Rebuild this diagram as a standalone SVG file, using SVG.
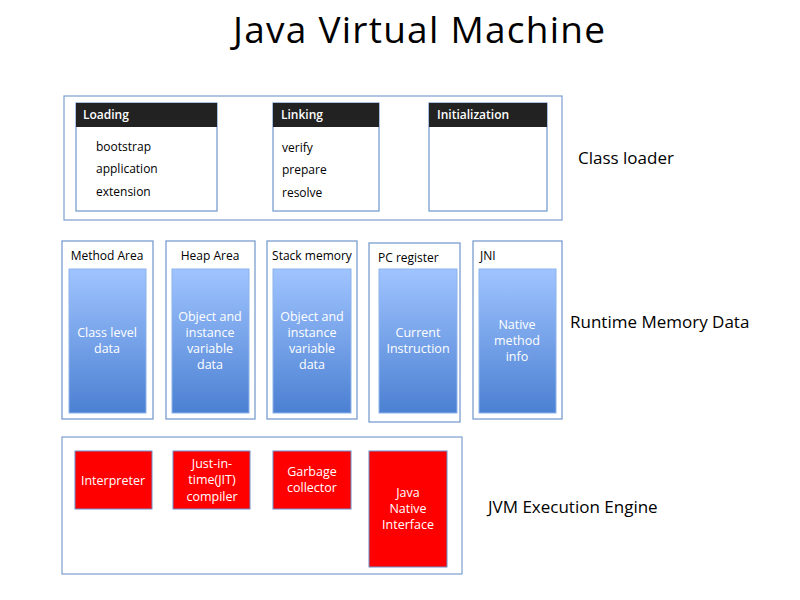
<svg xmlns="http://www.w3.org/2000/svg" width="800" height="600" viewBox="0 0 800 600">
<style>
text{font-family:"Open Sans","Liberation Sans",sans-serif;}
.outer{fill:#fff;stroke:#7d9fd0;stroke-width:1.2;}
.box{fill:#fff;stroke:#6f95cc;stroke-width:1.2;}
.hdr{fill:#222;}
.ht{fill:#fff;font-size:12px;font-weight:600;}
.t{fill:#000;font-size:12px;}
.lbl{fill:#000;font-size:12px;}
.blue{fill:url(#bg);stroke:#8db3ea;stroke-width:1;}
.red{fill:#ff0000;stroke:#6a8fca;stroke-width:1;}
.wt{fill:#fff;font-size:12.5px;text-anchor:middle;}
.side{fill:#000;font-size:17px;}
</style>
<defs>
<linearGradient id="bg" x1="0" y1="0" x2="0" y2="1">
<stop offset="0" stop-color="#a0c4ff"/>
<stop offset="1" stop-color="#4b80d2"/>
</linearGradient>
</defs>
<rect width="800" height="600" fill="#fff"/>
<text x="419" y="43" font-size="37" font-weight="500" text-anchor="middle" fill="#000" textLength="372">Java Virtual Machine</text>

<g id="class-loader">
<rect class="outer" x="64" y="96" width="498" height="124"/>
<text class="side" x="578" y="164">Class loader</text>
</g>
<g id="loading">
<rect class="box" x="76" y="103" width="141" height="108"/>
<rect class="hdr" x="76" y="103" width="141" height="24"/>
<text class="ht" x="83" y="119">Loading</text>
<text class="t" x="96" y="151">bootstrap</text>
<text class="t" x="96" y="173">application</text>
<text class="t" x="96" y="196">extension</text>
</g>
<g id="linking">
<rect class="box" x="273" y="103" width="106" height="108"/>
<rect class="hdr" x="273" y="103" width="106" height="24"/>
<text class="ht" x="281" y="119">Linking</text>
<text class="t" x="282" y="152">verify</text>
<text class="t" x="282" y="174">prepare</text>
<text class="t" x="282" y="197">resolve</text>
</g>
<g id="initialization">
<rect class="box" x="429" y="103" width="118" height="108"/>
<rect class="hdr" x="429" y="103" width="118" height="24"/>
<text class="ht" x="437" y="119">Initialization</text>
</g>

<g id="runtime-memory">
<text class="side" x="570" y="328">Runtime Memory Data</text>
</g>
<g id="method-area">
<rect class="box" x="62" y="241" width="91" height="178"/>
<text class="lbl" x="107" y="260" text-anchor="middle">Method Area</text>
<rect class="blue" x="69" y="269" width="77" height="144"/>
<text class="wt" x="107" y="337">Class level</text>
<text class="wt" x="107" y="353">data</text>
</g>
<g id="heap-area">
<rect class="box" x="166" y="241" width="89" height="178"/>
<text class="lbl" x="210" y="260" text-anchor="middle">Heap Area</text>
<rect class="blue" x="172" y="269" width="77" height="144"/>
<text class="wt" x="210" y="321">Object and</text>
<text class="wt" x="210" y="337">instance</text>
<text class="wt" x="210" y="353">variable</text>
<text class="wt" x="210" y="369">data</text>
</g>
<g id="stack-memory">
<rect class="box" x="267" y="241" width="90" height="178"/>
<text class="lbl" x="312" y="260" text-anchor="middle">Stack memory</text>
<rect class="blue" x="273" y="269" width="78" height="144"/>
<text class="wt" x="312" y="321">Object and</text>
<text class="wt" x="312" y="337">instance</text>
<text class="wt" x="312" y="353">variable</text>
<text class="wt" x="312" y="369">data</text>
</g>
<g id="pc-register">
<rect class="box" x="369" y="243" width="91" height="179"/>
<text class="lbl" x="378" y="262">PC register</text>
<rect class="blue" x="379" y="269" width="78" height="144"/>
<text class="wt" x="418" y="337">Current</text>
<text class="wt" x="418" y="353">Instruction</text>
</g>
<g id="jni">
<rect class="box" x="473" y="241" width="89" height="178"/>
<text class="lbl" x="480" y="260">JNI</text>
<rect class="blue" x="479" y="269" width="77" height="144"/>
<text class="wt" x="517" y="329">Native</text>
<text class="wt" x="517" y="345">method</text>
<text class="wt" x="517" y="361">info</text>
</g>

<g id="execution-engine">
<rect class="outer" x="62" y="437" width="400" height="137"/>
<text class="side" x="488" y="513">JVM Execution Engine</text>
</g>
<g id="interpreter">
<rect class="red" x="75" y="451" width="77" height="58"/>
<text class="wt" x="113" y="485">Interpreter</text>
</g>
<g id="jit">
<rect class="red" x="173" y="451" width="77" height="58"/>
<text class="wt" x="212" y="468">Just-in-</text>
<text class="wt" x="212" y="484">time(JIT)</text>
<text class="wt" x="212" y="501">compiler</text>
</g>
<g id="gc">
<rect class="red" x="273" y="451" width="78" height="58"/>
<text class="wt" x="312" y="476">Garbage</text>
<text class="wt" x="312" y="492">collector</text>
</g>
<g id="java-native-interface">
<rect class="red" x="369" y="451" width="78" height="116"/>
<text class="wt" x="408" y="497">Java</text>
<text class="wt" x="408" y="513">Native</text>
<text class="wt" x="408" y="529">Interface</text>
</g>
</svg>
